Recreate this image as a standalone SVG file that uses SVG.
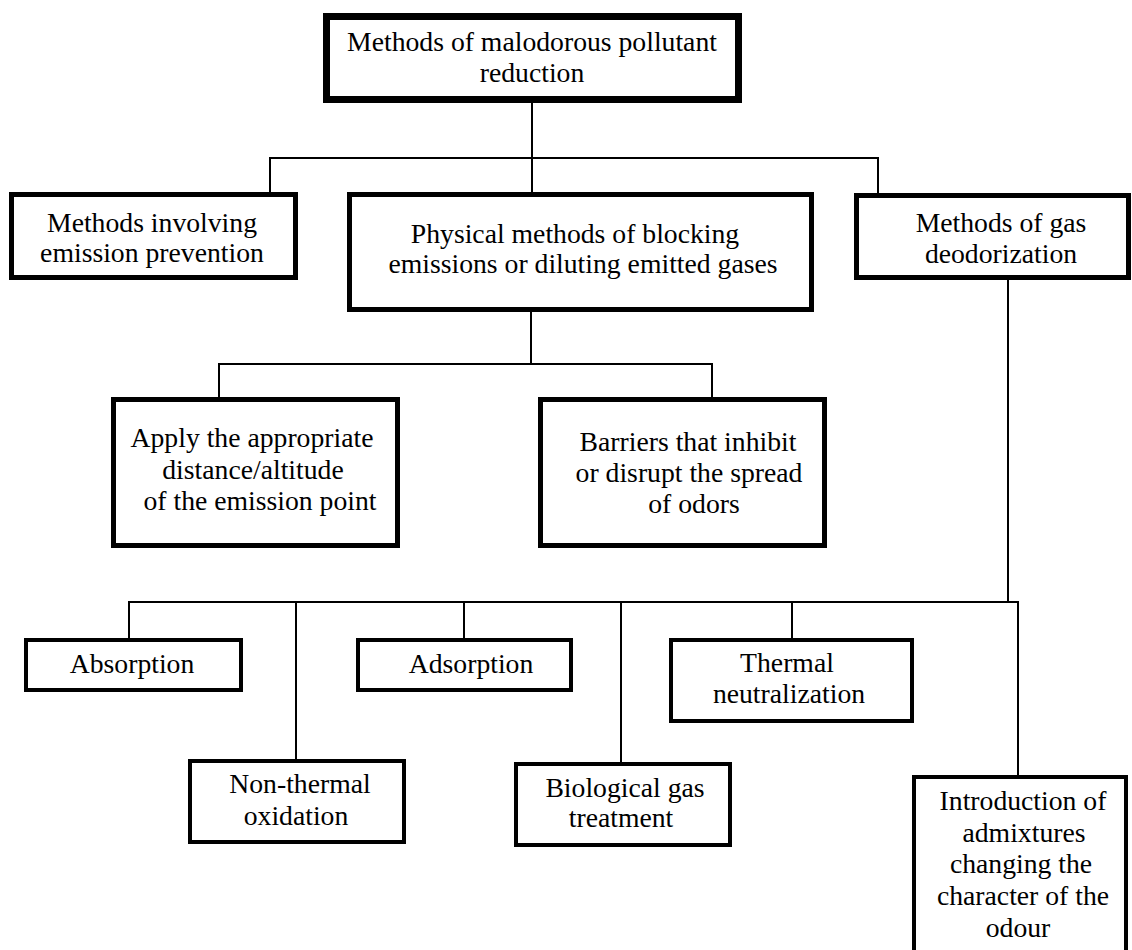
<svg xmlns="http://www.w3.org/2000/svg" width="1132" height="950" viewBox="0 0 1132 950">
<style>
  .bg { fill: #ffffff; }
  .box { fill: #ffffff; stroke: #000000; }
  .b7 { stroke-width: 7; }
  .b5 { stroke-width: 5; }
  .b4 { stroke-width: 4; }
  .conn { fill: none; stroke: #000000; stroke-width: 2; }
  text { font-family: "Liberation Serif", "Times New Roman", serif; font-size: 27.7px; fill: #000000; text-anchor: middle; }
</style>
<rect class="bg" x="0" y="0" width="1132" height="950"/>
<g id="connectors">
  <path class="conn" d="M532,103 V192"/>
  <path class="conn" d="M270,193 V158 H878 V195"/>
  <path class="conn" d="M531,312 V364"/>
  <path class="conn" d="M219,397 V364 H712 V397"/>
  <path class="conn" d="M1008,280 V602"/>
  <path class="conn" d="M129,638 V602 H1018 V775"/>
  <path class="conn" d="M296,602 V759"/>
  <path class="conn" d="M464,602 V638"/>
  <path class="conn" d="M621,602 V762"/>
  <path class="conn" d="M792,602 V638"/>
</g>
<g id="root">
  <rect class="box b7" x="326.5" y="16.5" width="412" height="83"/>
  <text x="532" y="51">Methods of malodorous pollutant</text>
  <text x="532" y="82">reduction</text>
</g>
<g id="prevention">
  <rect class="box b5" x="11.5" y="194.5" width="284" height="83"/>
  <text x="152" y="232">Methods involving</text>
  <text x="152" y="262">emission prevention</text>
</g>
<g id="physical">
  <rect class="box b5" x="349.5" y="194.5" width="462" height="115"/>
  <text x="575" y="243">Physical methods of blocking</text>
  <text x="583" y="273">emissions or diluting emitted gases</text>
</g>
<g id="deodorization">
  <rect class="box b5" x="856.5" y="195.5" width="272" height="82"/>
  <text x="1001" y="232">Methods of gas</text>
  <text x="1001" y="263">deodorization</text>
</g>
<g id="distance">
  <rect class="box b5" x="113.5" y="399.5" width="284" height="146"/>
  <text x="252" y="447">Apply the appropriate</text>
  <text x="253" y="479">distance/altitude</text>
  <text x="260" y="510">of the emission point</text>
</g>
<g id="barriers">
  <rect class="box b5" x="540.5" y="399.5" width="284" height="146"/>
  <text x="688" y="451">Barriers that inhibit</text>
  <text x="689" y="482">or disrupt the spread</text>
  <text x="694" y="513">of odors</text>
</g>
<g id="absorption">
  <rect class="box b4" x="26" y="640" width="215" height="50"/>
  <text x="132" y="673">Absorption</text>
</g>
<g id="adsorption">
  <rect class="box b4" x="358" y="640" width="213" height="50"/>
  <text x="471" y="673">Adsorption</text>
</g>
<g id="thermal">
  <rect class="box b4" x="671" y="640" width="241" height="81"/>
  <text x="787" y="672">Thermal</text>
  <text x="789" y="703">neutralization</text>
</g>
<g id="nonthermal">
  <rect class="box b4" x="190" y="761" width="214" height="81"/>
  <text x="300" y="793">Non-thermal</text>
  <text x="296" y="825">oxidation</text>
</g>
<g id="biological">
  <rect class="box b4" x="516" y="764" width="214" height="81"/>
  <text x="625" y="797">Biological gas</text>
  <text x="621" y="827">treatment</text>
</g>
<g id="admixtures">
  <rect class="box b4" x="914" y="777" width="212" height="200"/>
  <text x="1023" y="810">Introduction of</text>
  <text x="1024" y="842">admixtures</text>
  <text x="1021" y="873">changing the</text>
  <text x="1023" y="905">character of the</text>
  <text x="1018" y="937">odour</text>
</g>
</svg>
